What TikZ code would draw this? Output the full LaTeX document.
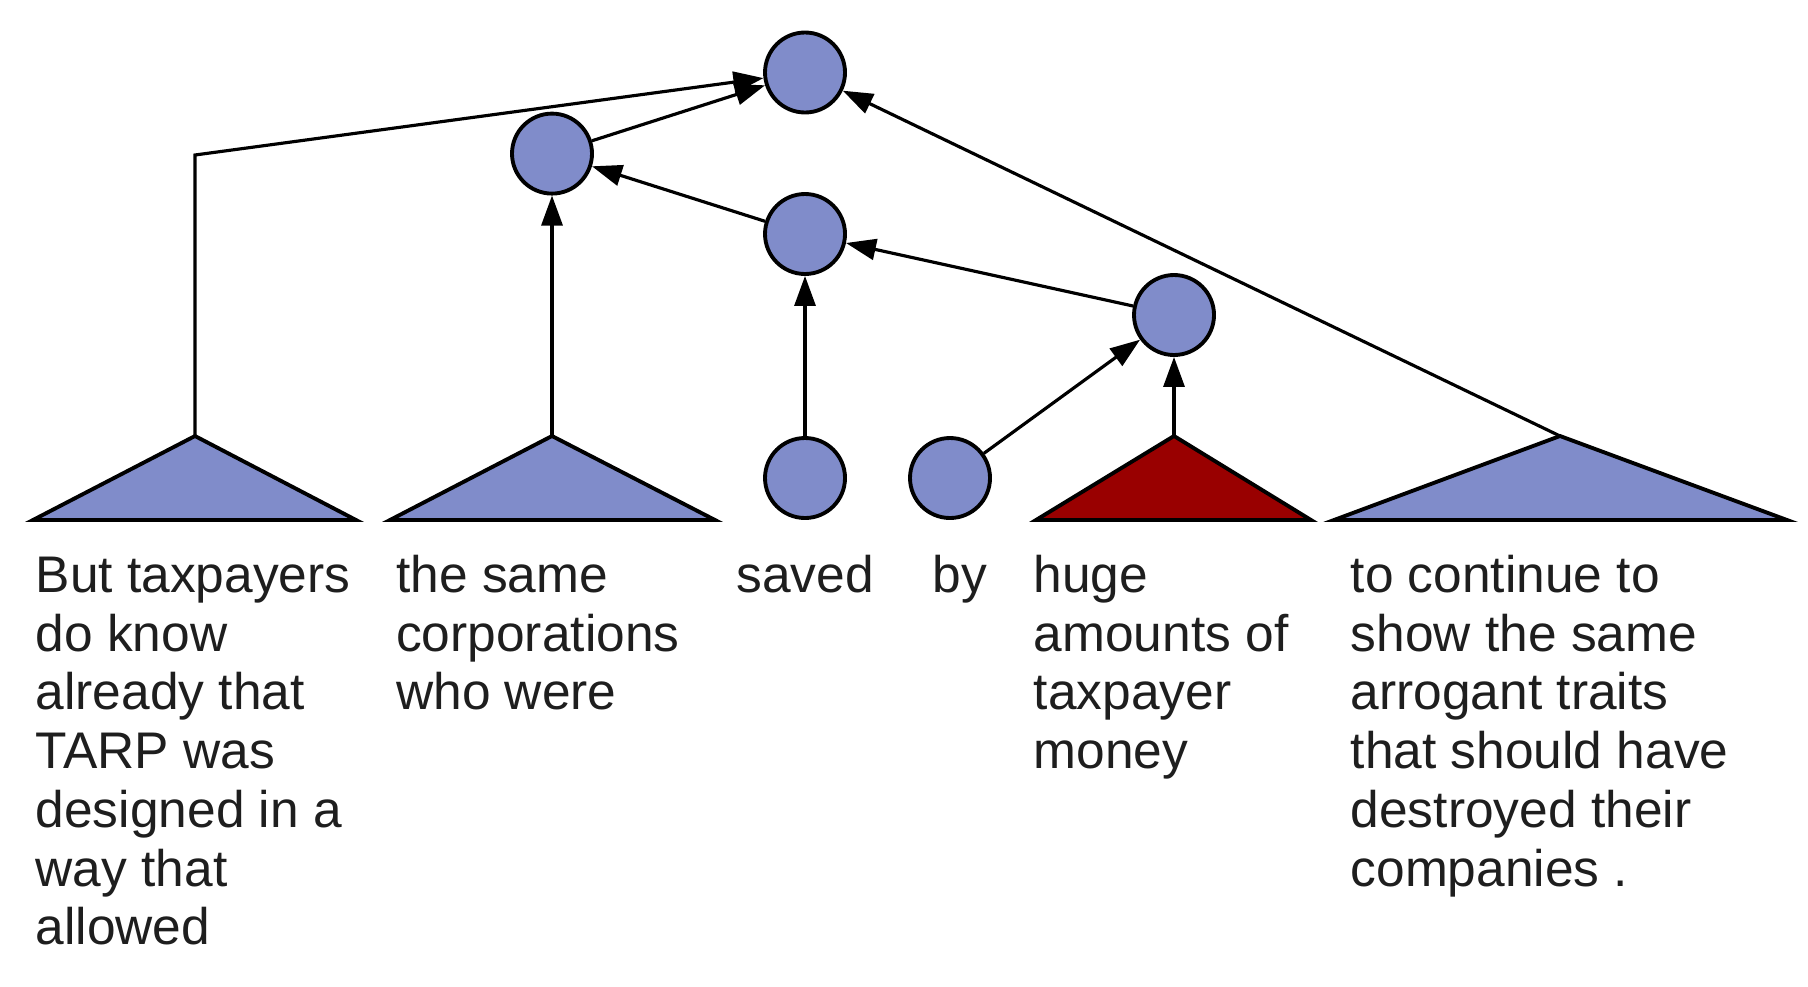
\documentclass[tikz,border=0pt]{standalone}
\usepackage{fontspec}
\setmainfont{Liberation Sans}
\usetikzlibrary{arrows.meta}
\definecolor{nodeblue}{RGB}{128,140,202}
\definecolor{headred}{RGB}{153,0,0}
\definecolor{wordgray}{RGB}{30,30,30}

\begin{document}
\begin{tikzpicture}[>={Triangle[length=0.3cm,width=0.21cm]},
    treenode/.style={circle, draw, line width=1.1pt, fill=nodeblue, minimum size=0.8cm, inner sep=0pt},
    link/.style={line width=0.9pt},
    subtree/.style={draw, line width=1.1pt, line join=miter, fill=nodeblue},
    word/.style={anchor=north west, align=left, inner sep=0pt, text=wordgray,
                 font=\fontsize{14.65pt}{16.7pt}\selectfont}]
    \useasboundingbox (0,0) rectangle (18.08,9.86);

    % Internal nodes
    \node[treenode] (root) at (8.05,9.135) {};
    \node[treenode] (n2) at (5.52,8.324) {};
    \node[treenode] (n3) at (8.05,7.52) {};
    \node[treenode] (n4) at (11.74,6.71) {};

    % Leaves
    \node[treenode] (saved) at (8.05,5.08) {};
    \node[treenode] (by) at (9.50,5.08) {};

    % Subtrees
    \draw[subtree] (0.33,4.66) -- (1.95,5.50) -- (3.56,4.66) -- cycle;
    \draw[subtree] (3.90,4.66) -- (5.52,5.50) -- (7.15,4.66) -- cycle;
    \draw[subtree, fill=headred] (10.36,4.66) -- (11.74,5.50) -- (13.11,4.66) -- cycle;
    \draw[subtree] (13.34,4.66) -- (15.60,5.50) -- (17.87,4.66) -- cycle;
    \coordinate (t1) at (1.95,5.50);
    \coordinate (t2) at (5.52,5.50);
    \coordinate (t3) at (11.74,5.50);
    \coordinate (t4) at (15.60,5.50);
    \coordinate (bend) at (1.95,8.31);

    % Edges
    \draw[link, ->] (t1) -- (bend) -- (root);
    \draw[link, ->] (n2) -- (root);
    \draw[link, ->] (t2) -- (n2);
    \draw[link, ->] (n3) -- (n2);
    \draw[link, ->] (saved) -- (n3);
    \draw[link, ->] (n4) -- (n3);
    \draw[link, ->] (by) -- (n4);
    \draw[link, ->] (t3) -- (n4);
    \draw[link, ->] (t4) -- (root);

    % Words
    \node[word] (w1) at (0.35,4.352) {\strut But taxpayers\\do know\\already that\\TARP was\\designed in a\\way that\\allowed};
    \node[word] (w2) at (3.955,4.352) {\strut the same\\corporations\\who were};
    \node[word, anchor=north] (w3) at (8.05,4.352) {\strut saved};
    \node[word, anchor=north] (w4) at (9.60,4.352) {\strut by};
    \node[word] (w5) at (10.33,4.352) {\strut huge\\amounts of\\taxpayer\\money};
    \node[word] (w6) at (13.50,4.352) {\strut to continue to\\show the same\\arrogant traits\\that should have\\destroyed their\\companies .};
\end{tikzpicture}
\end{document}
